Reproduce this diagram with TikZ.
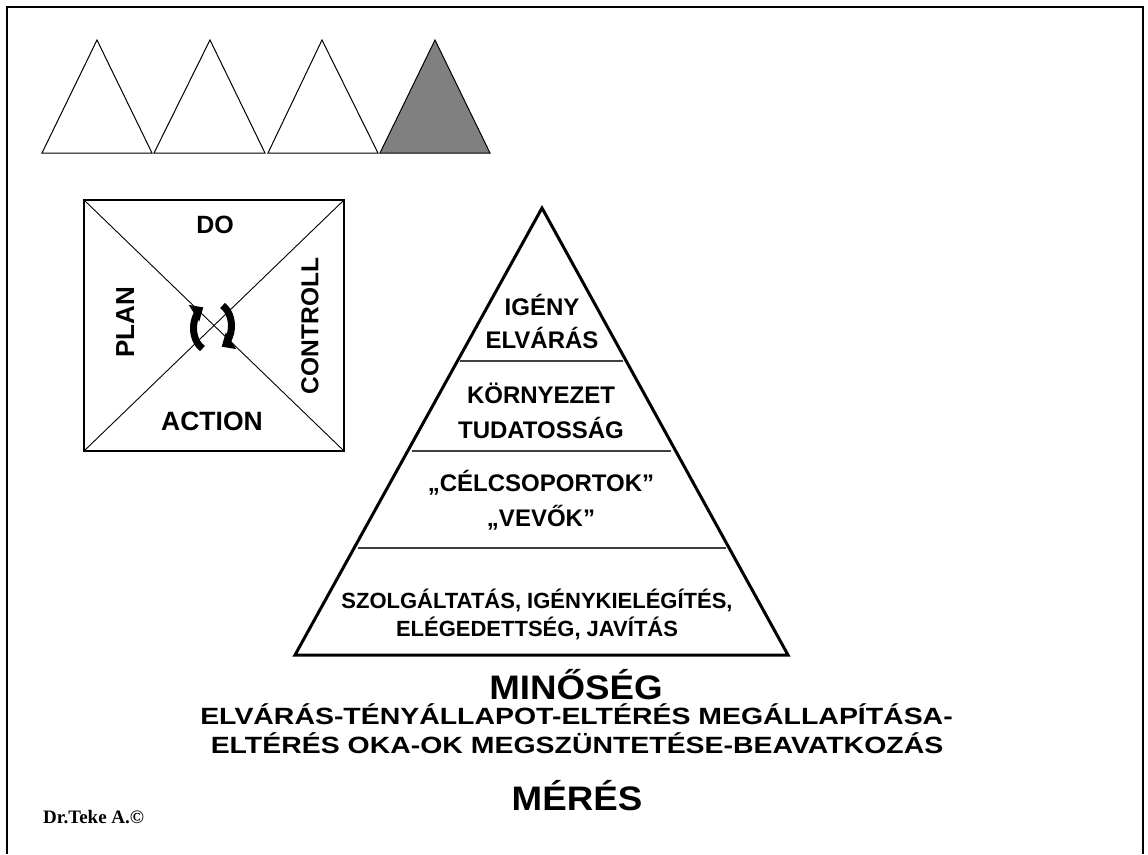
\documentclass[tikz,border=0pt]{standalone}
\usepackage{fontspec}
\setmainfont{Liberation Sans}
\newfontfamily\serifb{Liberation Serif}
\usepackage{graphicx}
\usetikzlibrary{arrows.meta}
\begin{document}
\begin{tikzpicture}[x=1pt,y=-1pt,
  tri/.style={draw=black, line width=1pt, line join=miter},
  divline/.style={draw=black!75, line width=1.6pt},
  lbl/.style={font=\bfseries\fontsize{24}{28}\selectfont, inner sep=0pt},
  lblsm/.style={font=\bfseries\fontsize{22}{26}\selectfont, inner sep=0pt},
  big/.style={font=\bfseries\fontsize{34}{40}\selectfont, inner sep=0pt},
  mid/.style={font=\bfseries\fontsize{23.5}{28}\selectfont, inner sep=0pt},
  cyc/.style={line width=7pt, -{Triangle[length=11pt,width=19pt]}}]
\useasboundingbox (0,0) rectangle (1148,854);
\fill[white] (0,0) rectangle (1148,854);
% frame
\coordinate (fbl) at (7,854);
\coordinate (ftl) at (7,7);
\coordinate (ftr) at (1143,7);
\coordinate (fbr) at (1143,854);
\draw[line width=2.8pt] (fbl) -- (ftl) -- (ftr) -- (fbr);
% top triangles
\draw[tri, fill=white] (42,153) -- (97,40) -- (152,153) -- cycle;
\draw[tri, fill=white] (154,153) -- (210,40) -- (265,153) -- cycle;
\draw[tri, fill=white] (268,153) -- (322,40) -- (378,153) -- cycle;
\draw[tri, fill=black!50] (380,153) -- (435,40) -- (490,153) -- cycle;
% PDCA square
\coordinate (sqA) at (84,200);
\coordinate (sqB) at (344,200);
\coordinate (sqC) at (344,451);
\coordinate (sqD) at (84,451);
\draw[line width=1.3pt] (sqA) rectangle (sqC);
\draw[line width=0.9pt] (sqA) -- (sqC);
\draw[line width=0.9pt] (sqB) -- (sqD);
\coordinate (cc) at (212.5,327);
\draw[cyc] (cc) ++(-10,21.5) arc[start angle=118, end angle=245, x radius=17, y radius=23];
\draw[cyc] (cc) ++(10,-21.5) arc[start angle=-62, end angle=65, x radius=17, y radius=23];
\node[lbl, anchor=base, font=\bfseries\fontsize{25}{28}\selectfont] (do) at (215,233.3) {DO};
\node[lbl, anchor=base, font=\bfseries\fontsize{26.5}{30}\selectfont] (action) at (212,430) {ACTION};
\node[lbl, anchor=base, rotate=90, font=\bfseries\fontsize{26}{30}\selectfont] (plan) at (134,322.5) {PLAN};
\node[lbl, anchor=base, rotate=90, font=\bfseries\fontsize{24.5}{28}\selectfont] (controll) at (318.3,326) {CONTROLL};
% pyramid
\coordinate (pa) at (542,208);
\coordinate (pr) at (788,655);
\coordinate (pl) at (295,655);
\draw[line width=3pt, line join=miter] (pa) -- (pr) -- (pl) -- cycle;
\coordinate (d1l) at (460,361); \coordinate (d1r) at (623,361);
\coordinate (d2l) at (412,451); \coordinate (d2r) at (671,451);
\coordinate (d3l) at (358,548); \coordinate (d3r) at (726,548);
\draw[divline] (d1l) -- (d1r);
\draw[divline] (d2l) -- (d2r);
\draw[divline] (d3l) -- (d3r);
\node[lbl, anchor=base] (igeny) at (542,315) {IGÉNY};
\node[lbl, anchor=base] (elvaras) at (542,348.3) {ELVÁRÁS};
\node[lbl, anchor=base] (kornyezet) at (541,403.3) {KÖRNYEZET};
\node[lbl, anchor=base] (tudatossag) at (541,438.3) {TUDATOSSÁG};
\node[lbl, anchor=base] (celcsop) at (541,491.7) {„CÉLCSOPORTOK”};
\node[lbl, anchor=base] (vevok) at (541,526.7) {„VEVŐK”};
\node[lblsm, anchor=base] (szolg) at (537,608.3) {SZOLGÁLTATÁS, IGÉNYKIELÉGÍTÉS,};
\node[lblsm, anchor=base] (eleged) at (537,636.7) {ELÉGEDETTSÉG, JAVÍTÁS};
% bottom texts
\node[big, anchor=base] (minoseg) at (576,699) {\scalebox{1.08}[1]{MINŐSÉG}};
\node[mid, anchor=base] (line1) at (576.5,724.3) {\scalebox{1.21}[1]{ELVÁRÁS-TÉNYÁLLAPOT-ELTÉRÉS MEGÁLLAPÍTÁSA-}};
\node[mid, anchor=base] (line2) at (577,753.3) {\scalebox{1.21}[1]{ELTÉRÉS OKA-OK MEGSZÜNTETÉSE-BEAVATKOZÁS}};
\node[big, anchor=base] (meres) at (577,810) {\scalebox{1.08}[1]{MÉRÉS}};
\node[anchor=base west, inner sep=0pt, font=\serifb\bfseries\fontsize{19}{22}\selectfont] (author) at (43,823) {Dr.Teke A.©};
\end{tikzpicture}
\end{document}
